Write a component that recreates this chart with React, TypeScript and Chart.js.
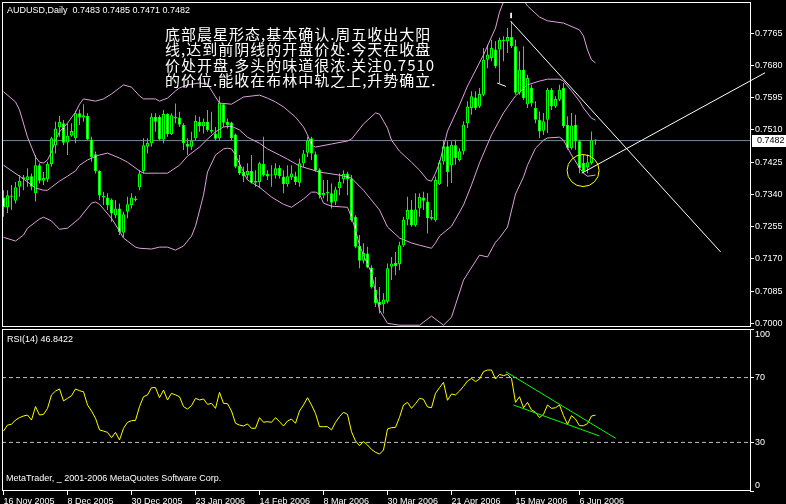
import React, { useEffect, useRef } from 'react';
import { Chart, registerables } from 'chart.js';

Chart.register(...registerables);

// AUDUSD daily bars, 16 Nov 2005 (bar 0) .. 12 Jun 2006 (bar 148)
const OPEN = [
  0.7332, 0.7306, 0.7337, 0.7323, 0.7360, 0.7380, 0.7378, 0.7388, 0.7343, 0.7417,
  0.7376, 0.7380, 0.7420, 0.7470, 0.7517, 0.7528, 0.7477, 0.7495, 0.7488, 0.7554,
  0.7543, 0.7547, 0.7485, 0.7446, 0.7402, 0.7336, 0.7332, 0.7325, 0.7285, 0.7303,
  0.7239, 0.7294, 0.7312, 0.7329, 0.7359, 0.7402, 0.7466, 0.7475, 0.7545, 0.7545,
  0.7485, 0.7552, 0.7499, 0.7545, 0.7543, 0.7523, 0.7473, 0.7466, 0.7488, 0.7532,
  0.7520, 0.7532, 0.7510, 0.7501, 0.7488, 0.7578, 0.7532, 0.7530, 0.7498, 0.7415,
  0.7400, 0.7391, 0.7402, 0.7371, 0.7373, 0.7420, 0.7394, 0.7390, 0.7391, 0.7410,
  0.7387, 0.7367, 0.7385, 0.7388, 0.7371, 0.7422, 0.7450, 0.7488, 0.7446, 0.7406,
  0.7338, 0.7347, 0.7343, 0.7321, 0.7356, 0.7380, 0.7395, 0.7382, 0.7281, 0.7204,
  0.7165, 0.7184, 0.7147, 0.7089, 0.7057, 0.7050, 0.7057, 0.7149, 0.7160, 0.7156,
  0.7206, 0.7274, 0.7300, 0.7259, 0.7303, 0.7332, 0.7321, 0.7281, 0.7272, 0.7367,
  0.7427, 0.7467, 0.7417, 0.7470, 0.7431, 0.7454, 0.7528, 0.7568, 0.7596, 0.7572,
  0.7603, 0.7695, 0.7700, 0.7722, 0.7722, 0.7748, 0.7744, 0.7755, 0.7731, 0.7608,
  0.7669, 0.7577, 0.7621, 0.7568, 0.7537, 0.7508, 0.7537, 0.7616, 0.7572, 0.7590,
  0.7621, 0.7524, 0.7462, 0.7524, 0.7480, 0.7423, 0.7411, 0.7423, 0.7483,
];
const HIGH = [
  0.7351, 0.7351, 0.7365, 0.7373, 0.7391, 0.7391, 0.7409, 0.7395, 0.7444, 0.7422,
  0.7399, 0.7426, 0.7492, 0.7532, 0.7547, 0.7536, 0.7528, 0.7528, 0.7561, 0.7564,
  0.7578, 0.7554, 0.7492, 0.7453, 0.7404, 0.7347, 0.7343, 0.7329, 0.7325, 0.7316,
  0.7294, 0.7334, 0.7343, 0.7336, 0.7404, 0.7488, 0.7488, 0.7554, 0.7554, 0.7549,
  0.7563, 0.7554, 0.7554, 0.7580, 0.7558, 0.7528, 0.7488, 0.7505, 0.7549, 0.7545,
  0.7540, 0.7563, 0.7558, 0.7518, 0.7598, 0.7580, 0.7540, 0.7532, 0.7501, 0.7444,
  0.7413, 0.7422, 0.7444, 0.7404, 0.7426, 0.7492, 0.7404, 0.7417, 0.7422, 0.7417,
  0.7404, 0.7417, 0.7417, 0.7400, 0.7435, 0.7457, 0.7492, 0.7492, 0.7453, 0.7409,
  0.7378, 0.7378, 0.7369, 0.7360, 0.7395, 0.7404, 0.7400, 0.7391, 0.7285, 0.7233,
  0.7211, 0.7202, 0.7153, 0.7122, 0.7096, 0.7079, 0.7158, 0.7175, 0.7188, 0.7215,
  0.7281, 0.7334, 0.7325, 0.7343, 0.7343, 0.7347, 0.7343, 0.7299, 0.7387, 0.7431,
  0.7484, 0.7480, 0.7480, 0.7484, 0.7462, 0.7533, 0.7586, 0.7612, 0.7612, 0.7621,
  0.7726, 0.7735, 0.7748, 0.7744, 0.7753, 0.7757, 0.7779, 0.7797, 0.7748, 0.7718,
  0.7731, 0.7656, 0.7629, 0.7586, 0.7559, 0.7555, 0.7621, 0.7621, 0.7599, 0.7629,
  0.7634, 0.7546, 0.7555, 0.7550, 0.7484, 0.7445, 0.7445, 0.7506, 0.7485,
];
const LOW = [
  0.7281, 0.7291, 0.7299, 0.7316, 0.7334, 0.7351, 0.7360, 0.7351, 0.7321, 0.7369,
  0.7365, 0.7373, 0.7413, 0.7448, 0.7492, 0.7470, 0.7444, 0.7492, 0.7475, 0.7523,
  0.7532, 0.7483, 0.7426, 0.7395, 0.7325, 0.7312, 0.7299, 0.7268, 0.7277, 0.7233,
  0.7228, 0.7277, 0.7303, 0.7321, 0.7351, 0.7395, 0.7448, 0.7466, 0.7505, 0.7483,
  0.7475, 0.7492, 0.7497, 0.7528, 0.7518, 0.7457, 0.7444, 0.7457, 0.7483, 0.7505,
  0.7501, 0.7505, 0.7501, 0.7483, 0.7483, 0.7518, 0.7514, 0.7483, 0.7409, 0.7391,
  0.7373, 0.7382, 0.7369, 0.7360, 0.7356, 0.7387, 0.7378, 0.7360, 0.7382, 0.7382,
  0.7343, 0.7360, 0.7378, 0.7365, 0.7360, 0.7413, 0.7439, 0.7431, 0.7400, 0.7329,
  0.7329, 0.7321, 0.7303, 0.7312, 0.7338, 0.7369, 0.7338, 0.7268, 0.7198, 0.7145,
  0.7158, 0.7145, 0.7092, 0.7043, 0.7026, 0.7026, 0.7052, 0.7114, 0.7127, 0.7140,
  0.7202, 0.7259, 0.7255, 0.7255, 0.7281, 0.7299, 0.7237, 0.7272, 0.7268, 0.7365,
  0.7418, 0.7360, 0.7370, 0.7418, 0.7427, 0.7445, 0.7515, 0.7550, 0.7563, 0.7568,
  0.7599, 0.7673, 0.7691, 0.7673, 0.7634, 0.7691, 0.7713, 0.7726, 0.7603, 0.7603,
  0.7589, 0.7568, 0.7572, 0.7528, 0.7489, 0.7497, 0.7502, 0.7563, 0.7568, 0.7586,
  0.7515, 0.7458, 0.7458, 0.7458, 0.7396, 0.7396, 0.7396, 0.7418, 0.7471,
];
const CLOSE = [
  0.7306, 0.7338, 0.7334, 0.7359, 0.7376, 0.7385, 0.7388, 0.7360, 0.7417, 0.7376,
  0.7383, 0.7420, 0.7488, 0.7514, 0.7532, 0.7476, 0.7495, 0.7507, 0.7554, 0.7543,
  0.7549, 0.7485, 0.7439, 0.7402, 0.7337, 0.7332, 0.7312, 0.7290, 0.7303, 0.7241,
  0.7288, 0.7314, 0.7332, 0.7325, 0.7395, 0.7470, 0.7476, 0.7545, 0.7532, 0.7485,
  0.7552, 0.7499, 0.7549, 0.7540, 0.7524, 0.7475, 0.7466, 0.7482, 0.7534, 0.7520,
  0.7532, 0.7510, 0.7505, 0.7487, 0.7582, 0.7529, 0.7523, 0.7488, 0.7413, 0.7395,
  0.7387, 0.7402, 0.7371, 0.7376, 0.7422, 0.7391, 0.7387, 0.7391, 0.7409, 0.7388,
  0.7367, 0.7388, 0.7395, 0.7373, 0.7422, 0.7448, 0.7483, 0.7448, 0.7404, 0.7338,
  0.7344, 0.7343, 0.7318, 0.7353, 0.7373, 0.7394, 0.7380, 0.7272, 0.7202, 0.7165,
  0.7186, 0.7147, 0.7096, 0.7052, 0.7048, 0.7063, 0.7145, 0.7158, 0.7151, 0.7206,
  0.7274, 0.7299, 0.7259, 0.7300, 0.7334, 0.7323, 0.7277, 0.7276, 0.7378, 0.7425,
  0.7467, 0.7399, 0.7471, 0.7436, 0.7454, 0.7524, 0.7572, 0.7599, 0.7568, 0.7605,
  0.7695, 0.7709, 0.7726, 0.7678, 0.7748, 0.7744, 0.7755, 0.7731, 0.7608, 0.7669,
  0.7594, 0.7647, 0.7581, 0.7537, 0.7506, 0.7533, 0.7616, 0.7572, 0.7592, 0.7616,
  0.7520, 0.7462, 0.7522, 0.7480, 0.7410, 0.7401, 0.7425, 0.7483, 0.7482,
];

// RSI(14), one value per bar
const RSI = [
  37.0, 40.7, 41.2, 43.8, 45.3, 46.3, 46.9, 43.8, 52.1, 46.9,
  47.3, 51.0, 59.3, 61.7, 63.0, 55.6, 57.2, 58.8, 63.0, 61.9,
  61.3, 53.1, 49.4, 44.9, 37.7, 37.0, 36.2, 32.9, 36.2, 31.5,
  38.7, 42.4, 43.4, 43.6, 52.1, 58.2, 59.3, 63.8, 63.8, 57.6,
  62.3, 56.2, 60.3, 59.3, 58.2, 52.1, 50.6, 52.7, 57.2, 56.2,
  56.8, 53.5, 54.1, 51.0, 60.9, 54.1, 53.9, 49.4, 41.8, 40.7,
  40.1, 41.4, 38.7, 38.7, 45.3, 42.4, 42.8, 42.4, 45.3, 42.8,
  40.1, 43.2, 44.4, 41.8, 49.4, 53.1, 57.6, 53.1, 47.9, 39.7,
  39.7, 39.7, 37.7, 42.4, 45.9, 48.6, 47.3, 36.6, 30.9, 28.0,
  30.5, 28.4, 25.7, 23.9, 22.8, 25.3, 38.3, 39.1, 39.3, 45.5,
  53.1, 54.7, 51.0, 53.9, 57.2, 56.6, 51.9, 51.4, 60.3, 63.8,
  67.1, 56.0, 59.9, 59.3, 61.7, 64.6, 67.9, 69.5, 67.5, 69.1,
  73.7, 74.7, 74.7, 69.1, 72.0, 71.2, 72.0, 69.5, 54.7, 58.2,
  51.4, 54.7, 50.0, 48.6, 45.3, 47.3, 53.1, 51.0, 51.4, 53.1,
  46.5, 41.2, 46.5, 44.4, 40.3, 40.3, 41.6, 46.3, 46.8422,
];

// Bollinger bands (20, 2): bar index / level pairs
const BB_UPPER_IDX = [0, 3, 4, 6, 8, 9, 10, 11, 12, 13, 14, 16, 18, 19, 20, 23, 25, 27, 29, 30, 32, 34, 35, 38, 39, 41, 43, 44, 46, 49, 51, 53, 54, 57, 60, 64, 66, 68, 70, 73, 75, 76, 77, 78, 82, 86, 87, 88, 90, 93, 94, 96, 97, 99, 102, 104, 106, 107, 108, 109, 111, 114, 116, 120, 123, 124, 125, 126, 128, 130, 131, 134, 136, 140, 144, 145, 146, 147, 148];
const BB_UPPER = [0.7611, 0.7584, 0.7563, 0.7491, 0.7439, 0.7425, 0.7423, 0.7431, 0.7452, 0.7483, 0.7505, 0.7528, 0.7557, 0.7578, 0.7592, 0.7586, 0.7592, 0.7605, 0.7621, 0.7629, 0.7623, 0.7600, 0.7592, 0.7592, 0.7586, 0.7594, 0.7613, 0.7621, 0.7629, 0.7634, 0.7631, 0.7597, 0.7581, 0.7578, 0.7597, 0.7602, 0.7594, 0.7584, 0.7571, 0.7544, 0.7518, 0.7497, 0.7470, 0.7465, 0.7473, 0.7481, 0.7486, 0.7499, 0.7526, 0.7555, 0.7552, 0.7515, 0.7483, 0.7454, 0.7425, 0.7404, 0.7378, 0.7375, 0.7396, 0.7423, 0.7507, 0.7576, 0.7626, 0.7708, 0.7779, 0.7821, 0.7848, 0.7856, 0.7861, 0.7853, 0.7837, 0.7808, 0.7798, 0.7792, 0.7774, 0.7758, 0.7721, 0.7695, 0.7687];
const BB_MIDDLE_IDX = [0, 4, 6, 8, 10, 11, 12, 14, 16, 18, 19, 21, 23, 24, 26, 29, 31, 34, 35, 39, 41, 44, 46, 49, 51, 53, 55, 57, 59, 61, 64, 66, 69, 71, 74, 79, 84, 87, 90, 94, 96, 99, 102, 104, 107, 108, 109, 112, 115, 117, 119, 122, 125, 128, 131, 134, 136, 139, 140, 142, 144, 145, 147, 148];
const BB_MIDDLE = [0.7417, 0.7388, 0.7373, 0.7357, 0.7351, 0.7351, 0.7359, 0.7375, 0.7388, 0.7402, 0.7417, 0.7431, 0.7440, 0.7444, 0.7449, 0.7436, 0.7425, 0.7402, 0.7396, 0.7396, 0.7396, 0.7417, 0.7441, 0.7465, 0.7486, 0.7505, 0.7518, 0.7520, 0.7510, 0.7491, 0.7475, 0.7460, 0.7444, 0.7433, 0.7415, 0.7399, 0.7391, 0.7383, 0.7351, 0.7299, 0.7254, 0.7225, 0.7212, 0.7206, 0.7198, 0.7212, 0.7230, 0.7256, 0.7312, 0.7365, 0.7423, 0.7497, 0.7555, 0.7600, 0.7629, 0.7639, 0.7644, 0.7644, 0.7639, 0.7613, 0.7586, 0.7568, 0.7541, 0.7536];
const BB_LOWER_IDX = [0, 3, 5, 6, 9, 10, 12, 14, 16, 19, 20, 22, 23, 24, 27, 29, 30, 33, 34, 37, 39, 41, 43, 45, 47, 48, 50, 51, 53, 55, 56, 57, 58, 60, 61, 64, 67, 70, 72, 75, 77, 78, 79, 80, 82, 86, 87, 88, 89, 90, 92, 93, 94, 96, 99, 104, 107, 110, 112, 115, 119, 121, 123, 124, 126, 128, 130, 131, 133, 135, 136, 139, 140, 142, 144, 145, 146, 148];
const BB_LOWER = [0.7227, 0.7217, 0.7233, 0.7251, 0.7275, 0.7280, 0.7270, 0.7248, 0.7251, 0.7277, 0.7291, 0.7317, 0.7320, 0.7314, 0.7277, 0.7243, 0.7225, 0.7201, 0.7198, 0.7196, 0.7201, 0.7201, 0.7193, 0.7204, 0.7230, 0.7256, 0.7338, 0.7399, 0.7444, 0.7460, 0.7462, 0.7460, 0.7444, 0.7399, 0.7378, 0.7359, 0.7333, 0.7314, 0.7306, 0.7328, 0.7346, 0.7346, 0.7341, 0.7317, 0.7309, 0.7306, 0.7280, 0.7246, 0.7206, 0.7180, 0.7133, 0.7082, 0.7035, 0.7000, 0.6995, 0.6995, 0.7019, 0.6995, 0.7016, 0.7114, 0.7180, 0.7175, 0.7214, 0.7225, 0.7254, 0.7341, 0.7386, 0.7417, 0.7462, 0.7483, 0.7489, 0.7491, 0.7483, 0.7444, 0.7410, 0.7396, 0.7388, 0.7391];

// Hand-drawn objects: [bar, price] end points
const TREND_DOWN = [[126.8, 0.7797], [179.3, 0.7188]];
const TREND_UP = [[144.55, 0.7396], [190.4, 0.7661]];
const LOW_MARK = [[123.4, 0.7634], [125.6, 0.7625]];
const TOP_MARK = [[126.9, 0.7819], [126.9, 0.7805]];
const STAR_CIRCLE = [144.9, 0.7403];
// RSI channel drawn over the indicator: [bar, rsi]
const RSI_CHANNEL_UPPER = [[125.6, 73.6], [153.05, 32.5]];
const RSI_CHANNEL_LOWER = [[127.45, 53.1], [148.95, 34.0]];

const PRICE_TICKS = [0.7, 0.7085, 0.717, 0.7255, 0.734, 0.7425, 0.751, 0.7595, 0.768, 0.7765];
const RSI_TICKS = [0, 30, 70, 100];
const RSI_LEVELS = [30, 70];
const DATE_TICKS = [0, 16, 32, 48, 64, 80, 96, 112, 128, 144];
const DATE_LABELS = ['16 Nov 2005', '8 Dec 2005', '30 Dec 2005', '23 Jan 2006', '14 Feb 2006', '8 Mar 2006', '30 Mar 2006', '21 Apr 2006', '15 May 2006', '6 Jun 2006'];

const SYMBOL = 'AUDUSD,Daily';
const NOTE_LINES = [
  '底部晨星形态,基本确认.周五收出大阳',
  '线,达到前阴线的开盘价处.今天在收盘',
  '价处开盘,多头的味道很浓.关注0.7510',
  '的价位.能收在布林中轨之上,升势确立.',
];
const COPYRIGHT = 'MetaTrader, _ 2001-2006 MetaQuotes Software Corp.';

// view window (bar units / price units)
const X_MIN = -0.375;
const X_MAX = 186.625;
const PRICE_MIN = 0.69929;
const PRICE_MAX = 0.78476;

const UI_FONT = '"Liberation Sans", Arial, sans-serif';
const CJK_FONT = '"Noto Sans CJK SC", sans-serif';
const LIME = '#00ff00';
const BAND = '#dda0dd';

const pts = (arr: number[][]) => arr.map(([x, y]) => ({ x, y }));
const seriesFrom = (idx: number[], vals: number[]) => idx.map((x, k) => ({ x, y: vals[k] }));

const zeroPad = (s: any) => {
  s.paddingTop = 0;
  s.paddingBottom = 0;
  s.paddingLeft = 0;
  s.paddingRight = 0;
};

const mainOverlay = {
  id: 'mainOverlay',
  afterDraw(chart: any) {
    const { ctx, chartArea: a, scales } = chart;
    const n = CLOSE.length - 1;
    ctx.save();
    ctx.strokeStyle = '#ffffff';
    ctx.lineWidth = 1;
    ctx.strokeRect(a.left + 0.5, a.top + 0.5, a.right - a.left, a.bottom - a.top);

    ctx.fillStyle = '#ffffff';
    ctx.textBaseline = 'middle';
    ctx.textAlign = 'left';
    ctx.font = `9px ${UI_FONT}`;
    ctx.fillText(
      `${SYMBOL}  ${OPEN[n].toFixed(4)} ${HIGH[n].toFixed(4)} ${LOW[n].toFixed(4)} ${CLOSE[n].toFixed(4)}`,
      7, 11
    );

    ctx.font = `15px ${CJK_FONT}`;
    (ctx as any).letterSpacing = '1px';
    NOTE_LINES.forEach((t, k) => ctx.fillText(t, 165, 34 + k * 15.4));
    (ctx as any).letterSpacing = '0px';

    // last price tag on the price axis
    const py = Math.round(scales.y.getPixelForValue(CLOSE[n]));
    ctx.fillStyle = '#ffffff';
    ctx.fillRect(752, py - 6, 34, 12);
    ctx.fillStyle = '#000000';
    ctx.font = `9px ${UI_FONT}`;
    ctx.fillText(CLOSE[n].toFixed(4), 757, py);
    ctx.restore();
  },
};

const rsiOverlay = {
  id: 'rsiOverlay',
  afterDraw(chart: any) {
    const { ctx, chartArea: a } = chart;
    ctx.save();
    ctx.strokeStyle = '#ffffff';
    ctx.lineWidth = 1;
    ctx.strokeRect(a.left + 0.5, a.top + 0.5, a.right - a.left, a.bottom - a.top - 1);
    ctx.fillStyle = '#ffffff';
    ctx.textBaseline = 'middle';
    ctx.font = `9px ${UI_FONT}`;
    ctx.fillText(`RSI(14) ${RSI[RSI.length - 1].toFixed(4)}`, 7, 340);
    ctx.fillText(COPYRIGHT, 6, 479);
    ctx.restore();
  },
};

export default function App() {
  const mainRef = useRef<HTMLCanvasElement | null>(null);
  const rsiRef = useRef<HTMLCanvasElement | null>(null);

  useEffect(() => {
    const bars = CLOSE.map((_, i) => i);
    const wickData = bars.map((i) => ({ x: i, y: [LOW[i], HIGH[i]] }));
    const bodyData = bars.map((i) => ({ x: i, y: [OPEN[i], CLOSE[i]] }));
    const bodyFill = bars.map((i) => (CLOSE[i] > OPEN[i] ? '#000000' : '#ffffff'));
    const thinLine = (data: any[], color: string, order: number, extra: any = {}) => ({
      type: 'line',
      data,
      borderColor: color,
      borderWidth: 1,
      pointRadius: 0,
      fill: false,
      tension: 0,
      order,
      ...extra,
    });

    const main = new Chart(mainRef.current as HTMLCanvasElement, {
      type: 'bar',
      data: {
        datasets: [
          {
            type: 'bubble',
            data: [{ x: STAR_CIRCLE[0], y: STAR_CIRCLE[1], r: 16 }],
            backgroundColor: 'rgba(0,0,0,0)',
            borderColor: '#ffff00',
            borderWidth: 1,
            order: 1,
          } as any,
          thinLine(pts(TREND_DOWN), '#ffffff', 2),
          thinLine(pts(TREND_UP), '#ffffff', 2, { clip: false }),
          thinLine(pts(LOW_MARK), '#ffffff', 2),
          thinLine(pts(TOP_MARK), '#ffffff', 2),
          thinLine(seriesFrom(BB_UPPER_IDX, BB_UPPER), BAND, 3),
          thinLine(seriesFrom(BB_MIDDLE_IDX, BB_MIDDLE), BAND, 3),
          thinLine(seriesFrom(BB_LOWER_IDX, BB_LOWER), BAND, 3),
          {
            type: 'bar',
            data: bodyData,
            barThickness: 3,
            backgroundColor: bodyFill,
            borderColor: LIME,
            borderWidth: 1,
            borderSkipped: false,
            minBarLength: 1,
            grouped: false,
            inflateAmount: 0,
            order: 4,
          } as any,
          {
            type: 'bar',
            data: wickData,
            barThickness: 1,
            backgroundColor: LIME,
            borderWidth: 0,
            grouped: false,
            inflateAmount: 0,
            order: 5,
          } as any,
          thinLine(
            [{ x: X_MIN, y: CLOSE[CLOSE.length - 1] }, { x: X_MAX, y: CLOSE[CLOSE.length - 1] }],
            '#778899', 6
          ),
        ] as any,
      },
      options: {
        responsive: false,
        devicePixelRatio: 1,
        animation: false,
        events: [],
        layout: { autoPadding: false, padding: { left: 2, top: 2, right: 0, bottom: 178 } },
        plugins: { legend: { display: false }, tooltip: { enabled: false } },
        scales: {
          x: { type: 'linear', min: X_MIN, max: X_MAX, display: false, offset: false },
          y: {
            type: 'linear',
            position: 'right',
            min: PRICE_MIN,
            max: PRICE_MAX,
            afterBuildTicks: (s: any) => {
              s.ticks = PRICE_TICKS.map((value) => ({ value }));
            },
            afterFit: (s: any) => {
              s.width = 36;
              zeroPad(s);
            },
            ticks: {
              color: '#ffffff',
              font: { family: UI_FONT, size: 9 },
              padding: 1,
              callback: (v: any) => Number(v).toFixed(4),
            },
            grid: { drawOnChartArea: false, drawTicks: true, tickLength: 4, color: '#ffffff' },
            border: { display: false },
          },
        },
      } as any,
      plugins: [mainOverlay],
    });

    const rsi = new Chart(rsiRef.current as HTMLCanvasElement, {
      type: 'line',
      data: {
        datasets: [
          thinLine(pts(RSI_CHANNEL_UPPER), LIME, 1),
          thinLine(pts(RSI_CHANNEL_LOWER), LIME, 1),
          thinLine(RSI.map((y, x) => ({ x, y })), '#ffff00', 2),
          ...RSI_LEVELS.map((lv) =>
            thinLine([{ x: X_MIN, y: lv }, { x: X_MAX, y: lv }], '#c0c0c0', 5, { borderDash: [4, 3] })
          ),
        ] as any,
      },
      options: {
        responsive: false,
        devicePixelRatio: 1,
        animation: false,
        events: [],
        layout: { autoPadding: false, padding: { left: 2, top: 329, right: 0, bottom: 0 } },
        plugins: { legend: { display: false }, tooltip: { enabled: false } },
        scales: {
          x: {
            type: 'linear',
            min: X_MIN,
            max: X_MAX,
            offset: false,
            afterBuildTicks: (s: any) => {
              s.ticks = DATE_TICKS.map((value) => ({ value }));
            },
            afterFit: (s: any) => {
              s.height = 13;
              zeroPad(s);
            },
            ticks: {
              color: '#ffffff',
              font: { family: UI_FONT, size: 9 },
              align: 'start',
              padding: 1,
              maxRotation: 0,
              autoSkip: false,
              callback: (_v: any, i: number) => DATE_LABELS[i],
            },
            grid: { drawOnChartArea: false, drawTicks: true, tickLength: 4, color: '#ffffff' },
            border: { display: false },
          },
          y: {
            type: 'linear',
            position: 'right',
            min: 0,
            max: 100,
            afterBuildTicks: (s: any) => {
              s.ticks = RSI_TICKS.map((value) => ({ value }));
            },
            afterFit: (s: any) => {
              s.width = 36;
              zeroPad(s);
            },
            ticks: {
              color: '#ffffff',
              font: { family: UI_FONT, size: 9 },
              padding: 1,
              callback: (v: any) => (v === 100 ? ['', '100'] : v === 0 ? ['0', ''] : String(v)),
            },
            grid: { drawOnChartArea: false, drawTicks: true, tickLength: 4, color: '#ffffff' },
            border: { display: false },
          },
        },
      } as any,
      plugins: [rsiOverlay],
    });

    return () => {
      main.destroy();
      rsi.destroy();
    };
  }, []);

  const canvasStyle: React.CSSProperties = { position: 'absolute', left: 0, top: 0 };
  return (
    <div
      style={{
        position: 'absolute',
        left: 0,
        top: 0,
        width: 786,
        height: 504,
        background: '#000000',
        overflow: 'hidden',
      }}
    >
      <canvas ref={mainRef} width={786} height={504} style={canvasStyle} />
      <canvas ref={rsiRef} width={786} height={504} style={canvasStyle} />
    </div>
  );
}
